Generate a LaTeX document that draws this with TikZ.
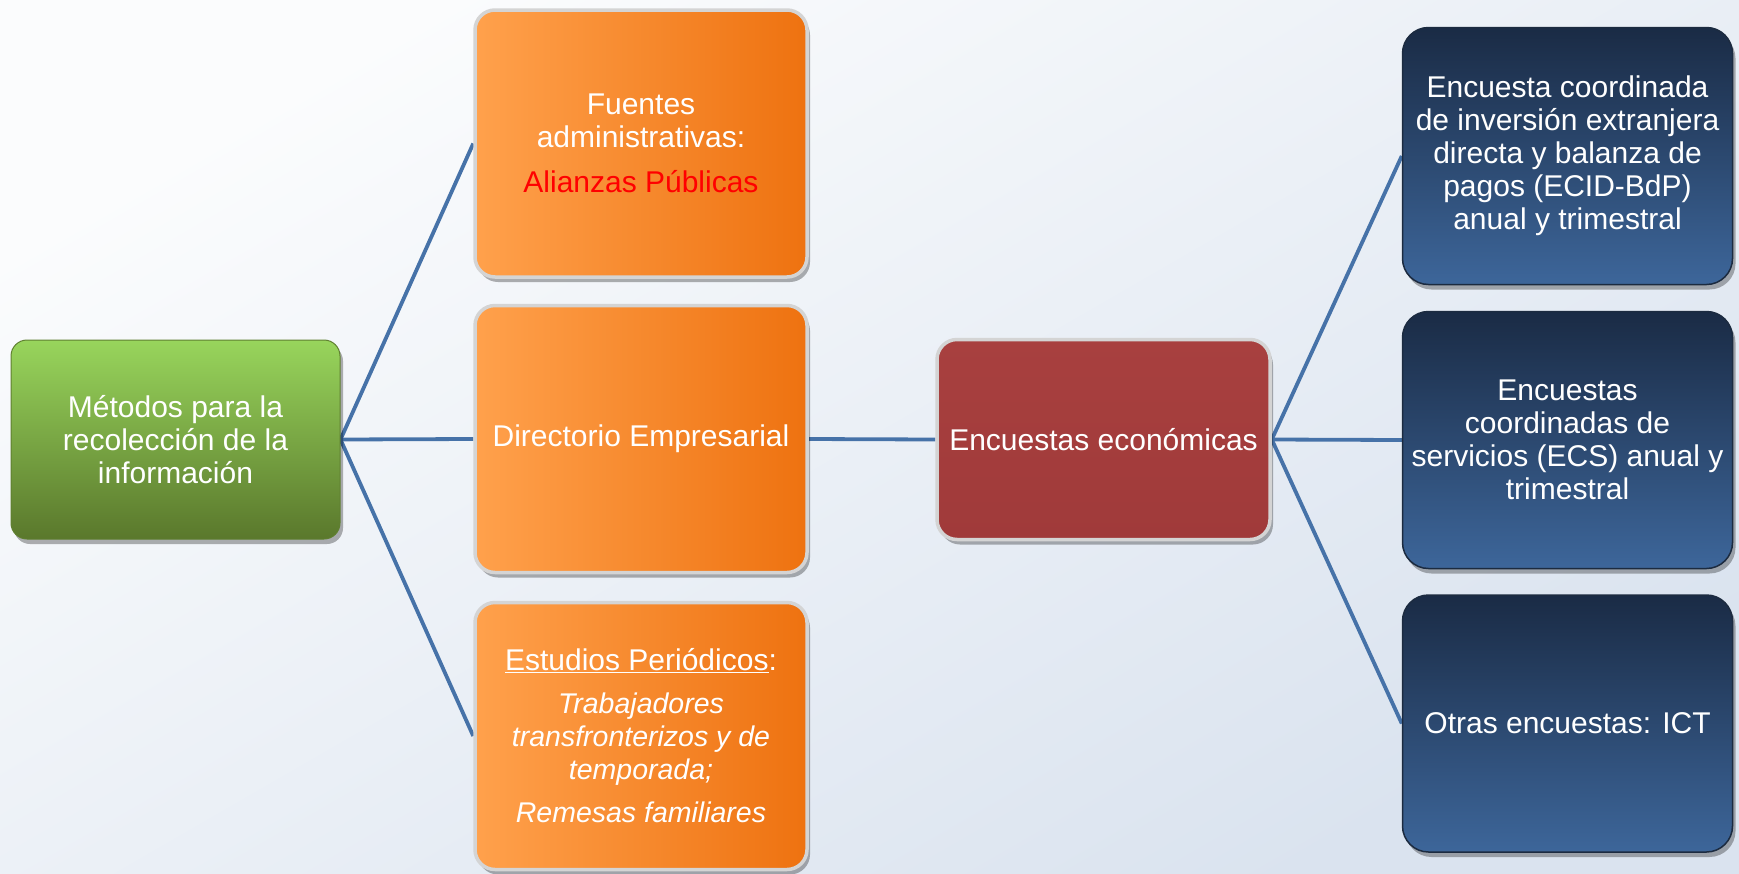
\documentclass[tikz,border=0pt]{standalone}
\usepackage{fontspec}
\setmainfont{Liberation Sans}
\usetikzlibrary{shadows}
\definecolor{bgA}{HTML}{FBFCFD}
\definecolor{bgB}{HTML}{DAE3EF}
\definecolor{lineC}{HTML}{4672A8}
\definecolor{grT}{HTML}{98D55C}
\definecolor{grB}{HTML}{5A782C}
\definecolor{grE}{HTML}{5F7F30}
\definecolor{orL}{HTML}{FFA14C}
\definecolor{orR}{HTML}{EE7210}
\definecolor{rdT}{HTML}{A8403F}
\definecolor{rdB}{HTML}{A03A3A}
\definecolor{blT}{HTML}{1A2B45}
\definecolor{blB}{HTML}{3D669A}
\definecolor{blE}{HTML}{1C2B40}
\definecolor{rimC}{HTML}{D4D4D4}
\definecolor{alRed}{HTML}{FF0000}
\pgfdeclarelayer{bgl}
\pgfdeclarelayer{lnl}
\pgfsetlayers{bgl,lnl,main}
\newcommand{\itl}{\fontsize{28.5}{32}\selectfont\itshape}
\begin{document}
\begin{tikzpicture}[x=1pt,y=-1pt,
  box/.style={align=center, text=white, inner sep=0pt,
    font=\fontsize{30}{33}\selectfont,
    drop shadow={shadow xshift=3pt, shadow yshift=-5pt, opacity=0.3, fill=black}},
  greenbox/.style={box, rounded corners=16pt, top color=grT, bottom color=grB,
    draw=grE, line width=1pt, minimum width=329pt, minimum height=199pt},
  orangebox/.style={box, rounded corners=20pt, left color=orL, right color=orR,
    draw=rimC, line width=3.5pt, minimum width=332pt, minimum height=267pt},
  redbox/.style={box, rounded corners=20pt, top color=rdT, bottom color=rdB,
    draw=rimC, line width=3.5pt, minimum width=333pt, minimum height=200pt},
  bluebox/.style={box, rounded corners=26pt, top color=blT, bottom color=blB,
    draw=blE, line width=1.5pt, minimum width=330pt, minimum height=257pt},
  conn/.style={draw=lineC, line width=3.8pt}
]
\useasboundingbox (0,0) rectangle (1739,873);
\begin{pgfonlayer}{bgl}
\shade[top color=bgA, bottom color=bgB, shading angle=30] (0,0) rectangle (1739,873);
\end{pgfonlayer}

\node[greenbox] (g) at (175.5,439.5) {Métodos para la\\recolección de la\\información};

\node[orangebox] (o1) at (641,143.5) {Fuentes\\administrativas:\\[12pt]\textcolor{alRed}{Alianzas Públicas}};
\node[orangebox] (o2) at (641,439) {Directorio Empresarial};
\node[orangebox] (o3) at (641,736) {\underline{Estudios Periódicos}:\\[10pt]\itl Trabajadores\\\itl transfronterizos y de\\\itl temporada;\\[10pt]\itl Remesas familiares};

\node[redbox] (r) at (1103.5,439.5) {Encuestas económicas};

\node[bluebox] (b1) at (1567.5,156) {Encuesta coordinada\\de inversión extranjera\\directa y balanza de\\pagos (ECID-BdP)\\anual y trimestral};
\node[bluebox] (b2) at (1567.5,440) {Encuestas\\coordinadas de\\servicios (ECS) anual y\\trimestral};
\node[bluebox] (b3) at (1567.5,723.5) {Otras encuestas: ICT};

\begin{pgfonlayer}{lnl}
\draw[conn] (g.east) -- (o1.west);
\draw[conn] (g.east) -- (o2.west);
\draw[conn] (g.east) -- (o3.west);
\draw[conn] (o2.east) -- (r.west);
\draw[conn] (r.east) -- (b1.west);
\draw[conn] (r.east) -- (b2.west);
\draw[conn] (r.east) -- (b3.west);
\end{pgfonlayer}
\end{tikzpicture}
\end{document}
